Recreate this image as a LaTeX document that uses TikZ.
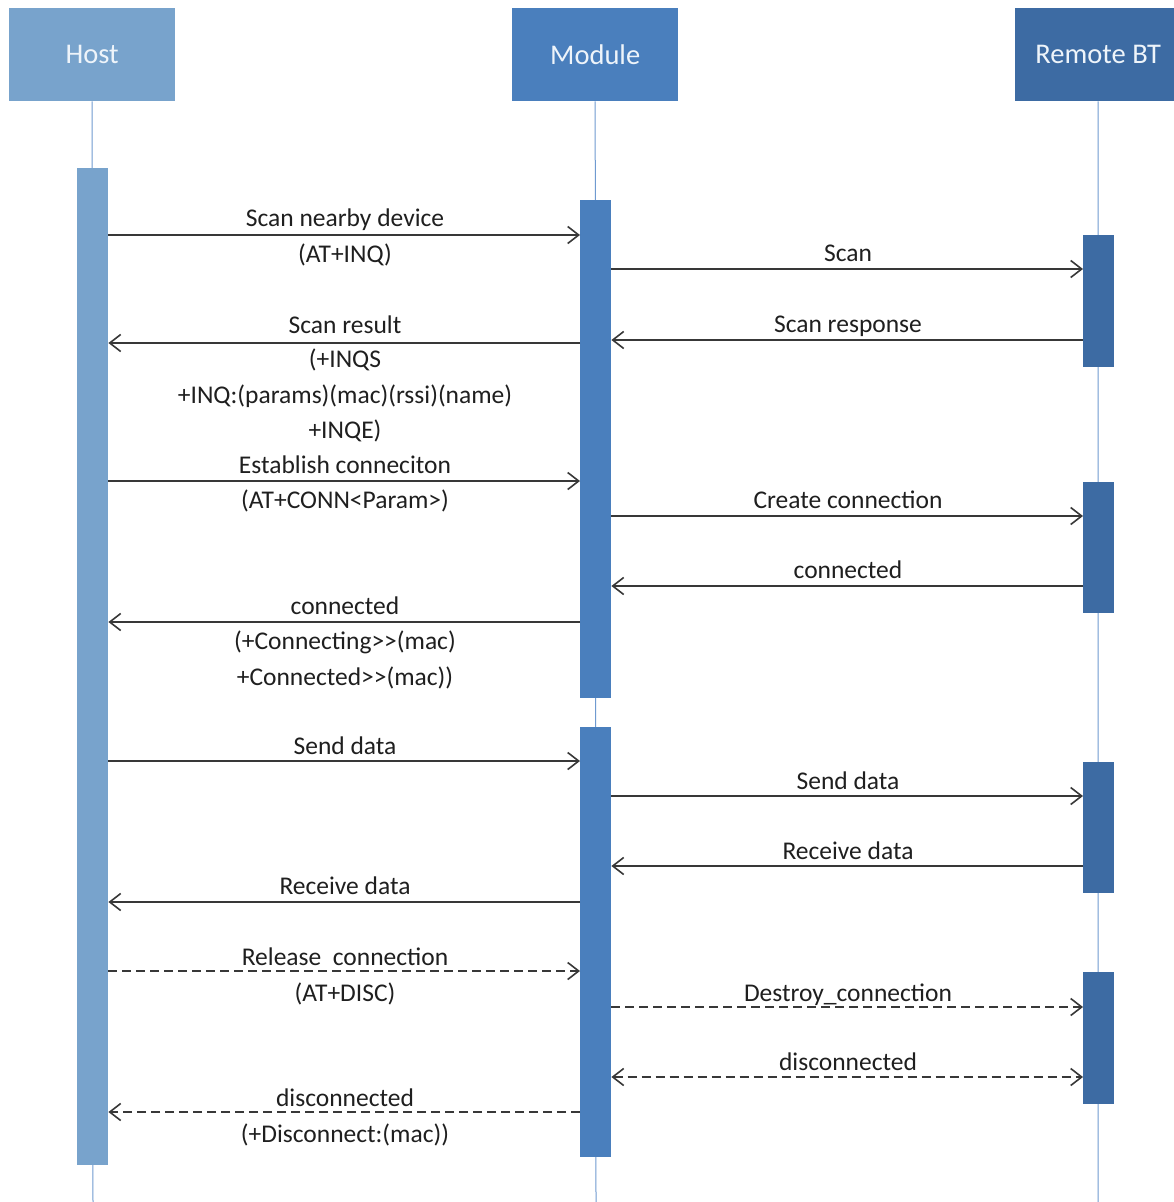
\documentclass[tikz,border=0pt]{standalone}
\usepackage{fontspec}
\setmainfont{Carlito}
\usetikzlibrary{arrows.meta}
\definecolor{hostc}{HTML}{78A3CC}
\definecolor{modc}{HTML}{4A7FBD}
\definecolor{remc}{HTML}{3D6BA3}
\definecolor{linec}{HTML}{6F9AD0}
\definecolor{msgc}{HTML}{383838}
\definecolor{headtxt}{HTML}{EEF4FA}
\begin{document}
\begin{tikzpicture}[x=1pt,y=-1pt,
  head/.style={rectangle, minimum width=166pt, minimum height=93pt, inner sep=0pt, anchor=north west, text=headtxt, font=\fontsize{28.5}{34}\selectfont},
  bar/.style={rectangle, minimum width=31pt, inner sep=0pt, anchor=north west},
  life/.style={draw=linec, line width=1pt},
  msg/.style={draw=msgc, line width=1.6pt, -{Straight Barb[length=11pt,width=17pt,line width=1.6pt]}},
  dmsg/.style={msg, line width=2pt, dash pattern=on 9pt off 5pt},
  lbl/.style={font=\fontsize{25.5}{30}\selectfont, text=black!88, inner sep=0pt, anchor=base}]
\useasboundingbox (0,0) rectangle (1174,1202);
\fill[white] (0,0) rectangle (1174,1202);

% headers
\node[head, fill=hostc] (host) at (9,8) {Host};
\node[head, fill=modc] (module) at (512,8) {Module};
\node[head, fill=remc] (remote) at (1015,8) {Remote BT};

% lifelines
\coordinate (hostend) at (93,1202);
\coordinate (modend) at (596,1202);
\coordinate (remend) at (1098,1202);
\draw[life] (host.south) -- (hostend);
\draw[life] (module.south) -- (modend);
\draw[life] (remote.south) -- (remend);

% activation bars
\node[bar, fill=hostc, minimum height=997pt] (hb) at (77,168) {};
\node[bar, fill=modc, minimum height=498pt] (mb1) at (580,200) {};
\node[bar, fill=modc, minimum height=430pt] (mb2) at (580,727) {};
\node[bar, fill=remc, minimum height=132pt] (rb1) at (1083,235) {};
\node[bar, fill=remc, minimum height=131pt] (rb2) at (1083,482) {};
\node[bar, fill=remc, minimum height=131pt] (rb3) at (1083,762) {};
\node[bar, fill=remc, minimum height=132pt] (rb4) at (1083,972) {};

% 1
\draw[msg] (hb.east |- 0,235) -- (mb1.west |- 0,235);
\node[lbl] (t1) at (345,226) {Scan nearby device};
\node[lbl] (t1b) at (345,262) {(AT+INQ)};
% 2
\draw[msg] (mb1.east |- 0,269) -- (rb1.west |- 0,269);
\node[lbl] (t2) at (848,261) {Scan};
% 3
\draw[msg] (mb1.west |- 0,343) -- (hb.east |- 0,343);
\node[lbl] (t3) at (345,333) {Scan result};
\node[lbl] (t3b) at (345,367) {(+INQS};
\node[lbl] (t3c) at (345,403) {+INQ:(params)(mac)(rssi)(name)};
\node[lbl] (t3d) at (345,438) {+INQE)};
% 4
\draw[msg] (rb1.west |- 0,340) -- (mb1.east |- 0,340);
\node[lbl] (t4) at (848,332) {Scan response};
% 5
\draw[msg] (hb.east |- 0,481) -- (mb1.west |- 0,481);
\node[lbl] (t5) at (345,473) {Establish conneciton};
\node[lbl] (t5b) at (345,508) {(AT+CONN<Param>)};
% 6
\draw[msg] (mb1.east |- 0,516) -- (rb2.west |- 0,516);
\node[lbl] (t6) at (848,508) {Create connection};
% 7
\draw[msg] (rb2.west |- 0,586) -- (mb1.east |- 0,586);
\node[lbl] (t7) at (848,578) {connected};
% 8
\draw[msg] (mb1.west |- 0,622) -- (hb.east |- 0,622);
\node[lbl] (t8) at (345,614) {connected};
\node[lbl] (t8b) at (345,649) {(+Connecting>{}>(mac)};
\node[lbl] (t8c) at (345,685) {+Connected>{}>(mac))};
% 9
\draw[msg] (hb.east |- 0,761) -- (mb2.west |- 0,761);
\node[lbl] (t9) at (345,754) {Send data};
% 10
\draw[msg] (mb2.east |- 0,796) -- (rb3.west |- 0,796);
\node[lbl] (t10) at (848,789) {Send data};
% 11
\draw[msg] (rb3.west |- 0,866) -- (mb2.east |- 0,866);
\node[lbl] (t11) at (848,859) {Receive data};
% 12
\draw[msg] (mb2.west |- 0,902) -- (hb.east |- 0,902);
\node[lbl] (t12) at (345,894) {Receive data};
% 13
\draw[dmsg] (hb.east |- 0,971) -- (mb2.west |- 0,971);
\node[lbl] (t13) at (345,965) {Release\ \ connection};
\node[lbl] (t13b) at (345,1001) {(AT+DISC)};
% 14
\draw[dmsg] (mb2.east |- 0,1007) -- (rb4.west |- 0,1007);
\node[lbl] (t14) at (848,1001) {Destroy\_connection};
% 15
\draw[dmsg, {Straight Barb[length=11pt,width=17pt,line width=1.6pt]}-{Straight Barb[length=11pt,width=17pt,line width=1.6pt]}] (mb2.east |- 0,1077) -- (rb4.west |- 0,1077);
\node[lbl] (t15) at (848,1070) {disconnected};
% 16
\draw[dmsg] (mb2.west |- 0,1112) -- (hb.east |- 0,1112);
\node[lbl] (t16) at (345,1106) {disconnected};
\node[lbl] (t16b) at (345,1142) {(+Disconnect:(mac))};
\end{tikzpicture}
\end{document}
